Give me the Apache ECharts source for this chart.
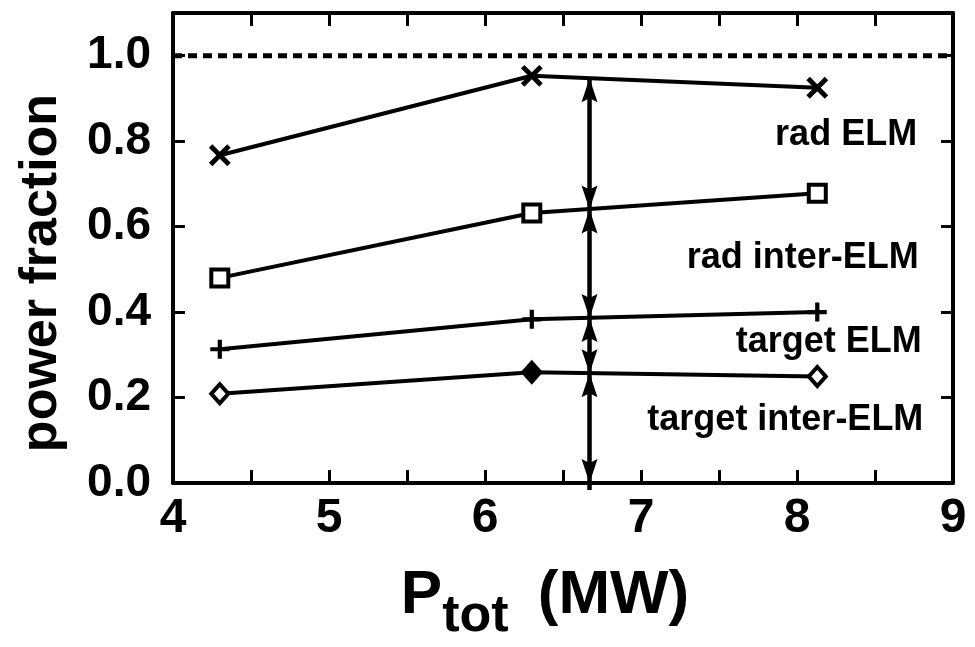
<!DOCTYPE html>
<html>
<head>
<meta charset="utf-8">
<script src="https://cdn.jsdelivr.net/npm/echarts@6/dist/echarts.min.js"></script>
<style>
  html, body { margin: 0; padding: 0; background: #fff; }
  #chart { width: 975px; height: 647px; }
</style>
</head>
<body>
<div id="chart"></div>
<script>
// Total heating power (MW) of the three discharges
const powerMW = [4.3, 6.3, 8.13];

// Power fractions, cumulative from the bottom
const radELM = [0.767, 0.953, 0.925];
const radInterELM = [0.48, 0.632, 0.678];
const targetELM = [0.313, 0.383, 0.40];
const targetInterELM = [0.209, 0.259, 0.249];

// Reference level (total = 1)
const unityX = [4, 9];
const unityY = [1.0, 1.0];

// Vertical arrow at one power level, split between the curves
const arrowPower = 6.67;
const arrowLevels = [0, 0.257, 0.386, 0.64, 0.947];

// Curve annotations (right edge x, centre y)
const annotationText = ['rad ELM', 'rad inter-ELM', 'target ELM', 'target inter-ELM'];
const annotationX = [8.77, 8.78, 8.8, 8.81];
const annotationY = [0.815, 0.527, 0.33, 0.148];

// Tick labels
const xTickLabels = ['4', '5', '6', '7', '8', '9'];
const yTickLabels = ['0.0', '0.2', '0.4', '0.6', '0.8', '1.0'];

const FONT = '"Liberation Sans", Arial, Helvetica, sans-serif';
const INK = '#000';

const plusPath = 'path://M-2,-9H2V-2H9V2H2V9H-2V2H-9V-2H-2Z';
const crossPath = 'path://M-1.7,-9H1.7V-1.7H9V1.7H1.7V9H-1.7V1.7H-9V-1.7H-1.7Z';

function pairs(xs, ys) {
  return xs.map((x, i) => [x, ys[i]]);
}

function curve(name, ys, symbol, extra) {
  return Object.assign({
    name: name,
    type: 'line',
    data: pairs(powerMW, ys),
    symbol: symbol,
    showAllSymbol: true,
    lineStyle: { color: INK, width: 4 },
    itemStyle: { color: INK, borderColor: INK, borderWidth: 0 },
    z: 3,
    silent: true
  }, extra);
}

const chart = echarts.init(document.getElementById('chart'), null, { renderer: 'canvas' });

const axisLineStyle = { color: INK, width: 4 };
const tickStyle = { color: INK, width: 3 };

chart.setOption({
  animation: false,
  backgroundColor: '#fff',
  grid: { left: 173, right: 22, top: 13, bottom: 164 },
  xAxis: [
    {
      type: 'value', position: 'bottom', min: 4, max: 9, interval: 1,
      axisLine: { show: true, onZero: false, lineStyle: axisLineStyle },
      axisTick: { show: true, inside: true, length: 13, lineStyle: tickStyle },
      minorTick: { show: true, splitNumber: 2, length: 13, lineStyle: tickStyle },
      splitLine: { show: false },
      axisLabel: {
        margin: 12, color: INK, fontFamily: FONT, fontWeight: 'bold', fontSize: 48,
        formatter: v => xTickLabels[Math.round(v - 4)] || ''
      }
    },
    {
      type: 'value', position: 'top', min: 4, max: 9, interval: 1,
      axisLine: { show: true, onZero: false, lineStyle: axisLineStyle },
      axisTick: { show: true, inside: true, length: 13, lineStyle: tickStyle },
      minorTick: { show: true, splitNumber: 2, length: 13, lineStyle: tickStyle },
      splitLine: { show: false },
      axisLabel: { show: false }
    }
  ],
  yAxis: [
    {
      type: 'value', position: 'left', min: 0, max: 1.1, interval: 0.2,
      axisLine: { show: true, onZero: false, lineStyle: axisLineStyle },
      axisTick: { show: true, inside: true, length: 12, lineStyle: tickStyle },
      splitLine: { show: false },
      axisLabel: {
        margin: 22, color: INK, fontFamily: FONT, fontWeight: 'bold', fontSize: 46,
        showMaxLabel: false,
        formatter: v => yTickLabels[Math.round(v / 0.2)] || ''
      }
    },
    {
      type: 'value', position: 'right', min: 0, max: 1.1, interval: 0.2,
      axisLine: { show: true, onZero: false, lineStyle: axisLineStyle },
      axisTick: { show: true, inside: true, length: 12, lineStyle: tickStyle },
      splitLine: { show: false },
      axisLabel: { show: false }
    }
  ],
  graphic: [
    {
      type: 'text', x: 42, y: 273, rotation: Math.PI / 2,
      style: {
        text: 'power fraction', fill: INK, font: 'bold 52px ' + FONT,
        align: 'center', verticalAlign: 'middle'
      }
    },
    {
      type: 'text', x: 545, y: 604,
      style: {
        text: '{p|P}{s|tot}{m| (MW)}', fill: INK,
        align: 'center', verticalAlign: 'middle',
        rich: {
          p: { fontFamily: FONT, fontWeight: 'bold', fontSize: 62, verticalAlign: 'bottom', padding: [0, 0, 16, 0] },
          s: { fontFamily: FONT, fontWeight: 'bold', fontSize: 52, verticalAlign: 'bottom' },
          m: { fontFamily: FONT, fontWeight: 'bold', fontSize: 62, verticalAlign: 'bottom', padding: [0, 0, 16, 12] }
        }
      }
    }
  ],
  series: [
    {
      name: 'total',
      type: 'line',
      data: pairs(unityX, unityY),
      symbol: 'none',
      lineStyle: { color: INK, width: 5, type: [9, 6] },
      z: 2,
      silent: true
    },
    curve('rad ELM', radELM, crossPath, { symbolSize: 26, symbolRotate: 45 }),
    curve('rad inter-ELM', radInterELM, 'rect', {
      symbolSize: 17,
      itemStyle: { color: '#fff', borderColor: INK, borderWidth: 4 }
    }),
    curve('target ELM', targetELM, plusPath, { symbolSize: 19 }),
    Object.assign(curve('target inter-ELM', targetInterELM, 'diamond', {
      symbolSize: [17, 19],
      itemStyle: { color: '#fff', borderColor: INK, borderWidth: 4 }
    }), {
      // the middle discharge is drawn as a solid diamond
      data: pairs(powerMW, targetInterELM).map((p, i) =>
        i === 1 ? { value: p, itemStyle: { color: INK } } : p)
    }),
    {
      name: 'split',
      type: 'custom',
      clip: false,
      silent: true,
      z: 4,
      encode: { x: 0, y: [1, 2] },
      data: arrowLevels.slice(0, -1).map((lo, i) => [arrowPower, lo, arrowLevels[i + 1]]),
      renderItem: function (params, api) {
        const lo = api.coord([api.value(0), api.value(1)]);
        const hi = api.coord([api.value(0), api.value(2)]);
        const cx = lo[0];
        const hw = 8, hl = 24, notch = 4;
        const tail = params.dataIndex === 0 ? 7 : 0;
        return {
          type: 'group',
          children: [
            {
              type: 'line',
              shape: { x1: cx, y1: lo[1] + tail, x2: cx, y2: hi[1] },
              style: { stroke: INK, lineWidth: 4.5 }
            },
            {
              type: 'polygon',
              shape: { points: [[cx, hi[1]], [cx + hw, hi[1] + hl], [cx, hi[1] + hl - notch], [cx - hw, hi[1] + hl]] },
              style: { fill: INK }
            },
            {
              type: 'polygon',
              shape: { points: [[cx, lo[1]], [cx + hw, lo[1] - hl], [cx, lo[1] - hl + notch], [cx - hw, lo[1] - hl]] },
              style: { fill: INK }
            }
          ]
        };
      }
    },
    {
      name: 'labels',
      type: 'scatter',
      symbolSize: 0,
      silent: true,
      z: 5,
      itemStyle: { opacity: 1, color: INK },
      data: annotationText.map((t, i) => ({ name: t, value: [annotationX[i], annotationY[i]] })),
      label: {
        show: true, position: 'left', distance: 0, formatter: '{b}',
        color: INK, opacity: 1, fontFamily: FONT, fontWeight: 'bold', fontSize: 36
      }
    }
  ]
});
</script>
</body>
</html>
